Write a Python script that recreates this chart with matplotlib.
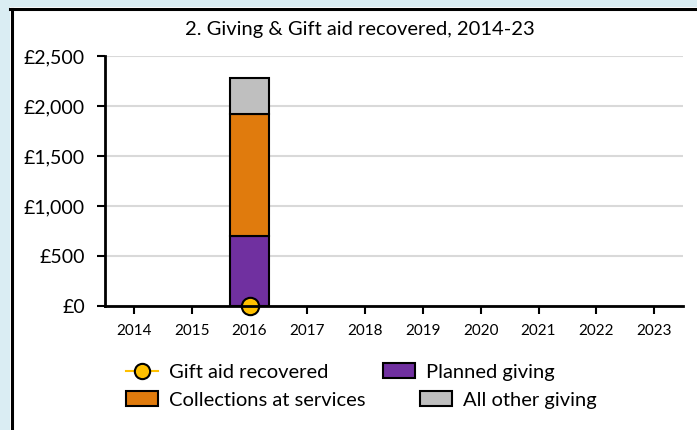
import numpy as np
import matplotlib
matplotlib.use("Agg")
import matplotlib.pyplot as plt
from matplotlib.patches import Rectangle, Patch
from matplotlib.lines import Line2D

plt.rcParams["font.family"] = ["Lato", "DejaVu Sans"]

YEARS      = ["2014", "2015", "2016", "2017", "2018", "2019", "2020", "2021", "2022", "2023"]
PLANNED    = [np.nan, np.nan, 700, np.nan, np.nan, np.nan, np.nan, np.nan, np.nan, np.nan]
COLLECT    = [np.nan, np.nan, 1220, np.nan, np.nan, np.nan, np.nan, np.nan, np.nan, np.nan]
OTHER      = [np.nan, np.nan, 360, np.nan, np.nan, np.nan, np.nan, np.nan, np.nan, np.nan]
GIFT_AID   = [np.nan, np.nan, 0, np.nan, np.nan, np.nan, np.nan, np.nan, np.nan, np.nan]
Y_TICKS    = [0, 500, 1000, 1500, 2000, 2500]
Y_LABELS   = ["£0", "£500", "£1,000", "£1,500", "£2,000", "£2,500"]

C_PURPLE = "#7030a0"
C_ORANGE = "#e07b0d"
C_GREY   = "#bfbfbf"
C_GOLD   = "#ffc000"
C_BG     = "#daedf3"

W, H = 697, 430
fig = plt.figure(figsize=(W / 100, H / 100), dpi=100, facecolor=C_BG)

# white panel with black left/top border
fig.patches.append(Rectangle((10 / W, 0), 1, 1 - 7 / H, transform=fig.transFigure,
                             facecolor="white", edgecolor="none", zorder=-5))
fig.lines.append(Line2D([11.5 / W, 11.5 / W], [0, 1 - 8.5 / H], transform=fig.transFigure,
                        color="black", linewidth=2.2, zorder=-4))
fig.lines.append(Line2D([10 / W, 1], [1 - 8.5 / H, 1 - 8.5 / H], transform=fig.transFigure,
                        color="black", linewidth=2.2, zorder=-4))

ax = fig.add_axes([105 / W, 1 - 306 / H, (683 - 105) / W, (306 - 56) / H])
ax.set_facecolor("none")
ax.set_zorder(1)

x = np.arange(len(YEARS))
pl = np.nan_to_num(PLANNED)
co = np.nan_to_num(COLLECT)
bw = 0.69
ax.bar(x, PLANNED, bw, color=C_PURPLE, edgecolor="black", linewidth=1.5, zorder=3)
ax.bar(x, COLLECT, bw, bottom=pl, color=C_ORANGE, edgecolor="black", linewidth=1.5, zorder=3)
ax.bar(x, OTHER, bw, bottom=pl + co, color=C_GREY, edgecolor="black", linewidth=1.5, zorder=3)
ax.plot(x, GIFT_AID, color=C_GOLD, linewidth=1.5, marker="o", markersize=12.5,
        markerfacecolor=C_GOLD, markeredgecolor="black", markeredgewidth=1.5,
        clip_on=False, zorder=4)

ax.set_xlim(-0.5, len(YEARS) - 0.5)
ax.set_ylim(0, 2500)
ax.set_xticks(x)
ax.set_xticklabels(YEARS, fontsize=11)
ax.set_yticks(Y_TICKS)
ax.set_yticklabels(Y_LABELS, fontsize=14)
ax.tick_params(axis="both", length=6, width=1.5, color="black")
ax.tick_params(axis="x", pad=7)
ax.tick_params(axis="y", pad=8.5)
ax.grid(axis="y", color="#d9d9d9", linewidth=1.5, zorder=0)
ax.set_axisbelow(True)
for s in ["top", "right"]:
    ax.spines[s].set_visible(False)
for s in ["left", "bottom"]:
    ax.spines[s].set_linewidth(2)
    ax.spines[s].set_zorder(5)

fig.text(360 / W, 1 - 30 / H, "2. Giving & Gift aid recovered, 2014-23",
         ha="center", va="center", fontsize=14.5)

# legend rows
h_gift = Line2D([], [], color=C_GOLD, linewidth=1.5, marker="o", markersize=11,
                markerfacecolor=C_GOLD, markeredgecolor="black", markeredgewidth=1.5)
h_plan = Patch(facecolor=C_PURPLE, edgecolor="black", linewidth=1.5)
h_coll = Patch(facecolor=C_ORANGE, edgecolor="black", linewidth=1.5)
h_oth  = Patch(facecolor=C_GREY, edgecolor="black", linewidth=1.5)

kw = dict(frameon=False, fontsize=14.5, ncol=2, handlelength=1.6, handleheight=0.72,
          handletextpad=0.55, borderpad=0, borderaxespad=0, columnspacing=2.7)
leg1 = fig.legend([h_gift, h_plan], ["Gift aid recovered", "Planned giving"],
                  loc="center left", bbox_to_anchor=(126 / W, 1 - 372 / H), **kw)
leg2 = fig.legend([h_coll, h_oth], ["Collections at services", "All other giving"],
                  loc="center left", bbox_to_anchor=(126 / W, 1 - 400 / H), **kw)

fig.savefig("out.png", dpi=100, facecolor=C_BG)
